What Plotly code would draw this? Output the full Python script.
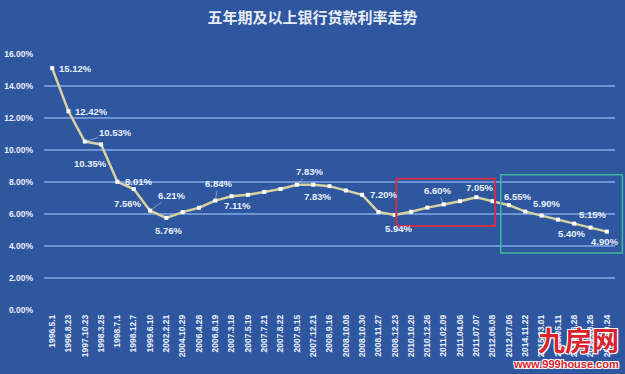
import plotly.graph_objects as go

dates = ["1996.5.1", "1996.8.23", "1997.10.23", "1998.3.25", "1998.7.1", "1998.12.7",
         "1999.6.10", "2002.2.21", "2004.10.29", "2006.4.28", "2006.8.19", "2007.3.18",
         "2007.5.19", "2007.7.21", "2007.8.22", "2007.9.15", "2007.12.21", "2008.9.16",
         "2008.10.08", "2008.10.30", "2008.11.27", "2008.12.23", "2010.10.20", "2010.12.26",
         "2011.02.09", "2011.04.06", "2011.07.07", "2012.06.08", "2012.07.06", "2014.11.22",
         "2015.03.01", "2015.05.11", "2015.06.28", "2015.08.26", "2015.10.24"]
rates = [15.12, 12.42, 10.53, 10.35, 8.01, 7.56, 6.21, 5.76, 6.12, 6.39, 6.84, 7.11,
         7.20, 7.38, 7.56, 7.83, 7.83, 7.74, 7.47, 7.20, 6.12, 5.94, 6.14, 6.40,
         6.60, 6.80, 7.05, 6.80, 6.55, 6.15, 5.90, 5.65, 5.40, 5.15, 4.90]
y_ticks = [0, 2, 4, 6, 8, 10, 12, 14, 16]

# indices of labelled points
labelled = [0, 1, 2, 3, 4, 5, 6, 7, 10, 11, 15, 16, 19, 21, 24, 26, 28, 30, 32, 33, 34]
# label offsets in pixels (ax, ay, leader line?)
offsets = {0: (23, 0, False), 1: (23, 0, False), 2: (31, -9, True), 3: (-11, 19, False),
           4: (21, 0, False), 5: (-6, 14, False), 6: (21, -15, True), 7: (2, 13, False),
           10: (3, -17, True), 11: (6, 9, False), 15: (13, -13, True), 16: (4, 12, False),
           19: (21, 0, False), 21: (4, 14, False), 24: (-6, -14, True), 26: (3, -10, False),
           28: (9, -9, False), 30: (5, -12, False), 32: (-3, 10, False), 33: (2, -13, False),
           34: (-2, 10, False)}

BG = "#2E57A0"
GRID = "#6F94D6"
TXT = "#EAF0FA"
FONT = "Liberation Sans, Arial, Noto Sans CJK SC"
WHITE_OUTLINE = "-1px -1px 0 #fff, 1px -1px 0 #fff, -1px 1px 0 #fff, 1px 1px 0 #fff"

fig = go.Figure()
fig.add_trace(go.Scatter(
    x=dates, y=rates, mode="lines+markers",
    line=dict(color="#D8D2A2", width=2.5),
    marker=dict(symbol="square", size=4, color="#FFFFFF"),
    cliponaxis=False, showlegend=False, hoverinfo="skip"))

annotations = []
for i in labelled:
    ax, ay, lead = offsets[i]
    annotations.append(dict(
        x=dates[i], y=rates[i], xref="x", yref="y",
        text=f"{rates[i]:.2f}%", showarrow=True, arrowhead=0, arrowwidth=0.7,
        arrowcolor="rgba(220,230,245,0.7)" if lead else "rgba(0,0,0,0)",
        ax=ax, ay=ay, standoff=2,
        font=dict(family=FONT, size=9.5, color=TXT, weight="bold")))

# watermark
annotations.append(dict(x=1.01, y=-0.115, xref="paper", yref="paper", xanchor="right", yanchor="middle",
                        text="<b>九房网</b>", showarrow=False,
                        font=dict(family="Noto Sans CJK SC", size=27, color="#D9232D",
                                  shadow=WHITE_OUTLINE)))
annotations.append(dict(x=1.01, y=-0.212, xref="paper", yref="paper", xanchor="right", yanchor="middle",
                        text="<b>www.999house.com</b>", showarrow=False,
                        font=dict(family=FONT, size=11, color="#D9232D", shadow=WHITE_OUTLINE)))

shapes = [
    dict(type="rect", xref="paper", yref="y", x0=0.617, x1=0.79, y0=5.25, y1=8.2,
         line=dict(color="#C8324E", width=2)),
    dict(type="rect", xref="paper", yref="y", x0=0.80, x1=1.013, y0=3.56, y1=8.45,
         line=dict(color="#3FB79C", width=1.5)),
]

fig.update_layout(
    width=625, height=374,
    margin=dict(l=44, r=10, t=54, b=64),
    paper_bgcolor=BG, plot_bgcolor=BG,
    title=dict(text="<b>五年期及以上银行贷款利率走势</b>", x=0.5, xanchor="center", y=0.952,
               yanchor="middle",
               font=dict(family="Noto Sans CJK SC", size=15, color="#E6ECF6")),
    annotations=annotations, shapes=shapes,
    xaxis=dict(type="category", range=[-0.5, len(dates) - 0.5], tickangle=-90, automargin=False,
               showgrid=False, showline=False, zeroline=False, ticks="",
               tickfont=dict(family=FONT, size=8.5, color=TXT, weight="bold"), ticklabelstandoff=2),
    yaxis=dict(range=[0, 16], tickvals=y_ticks, ticktext=[f"{v:.2f}%" for v in y_ticks],
               automargin=False,
               showgrid=True, gridcolor=GRID, gridwidth=1.5, zeroline=False, showline=False,
               ticks="", tickfont=dict(family=FONT, size=8.5, color=TXT, weight="bold"),
               ticklabelstandoff=10),
)

fig.write_html("out.html", config={"displayModeBar": False},
               post_script="document.body.style.margin='0';document.body.style.background='" + BG + "';")
